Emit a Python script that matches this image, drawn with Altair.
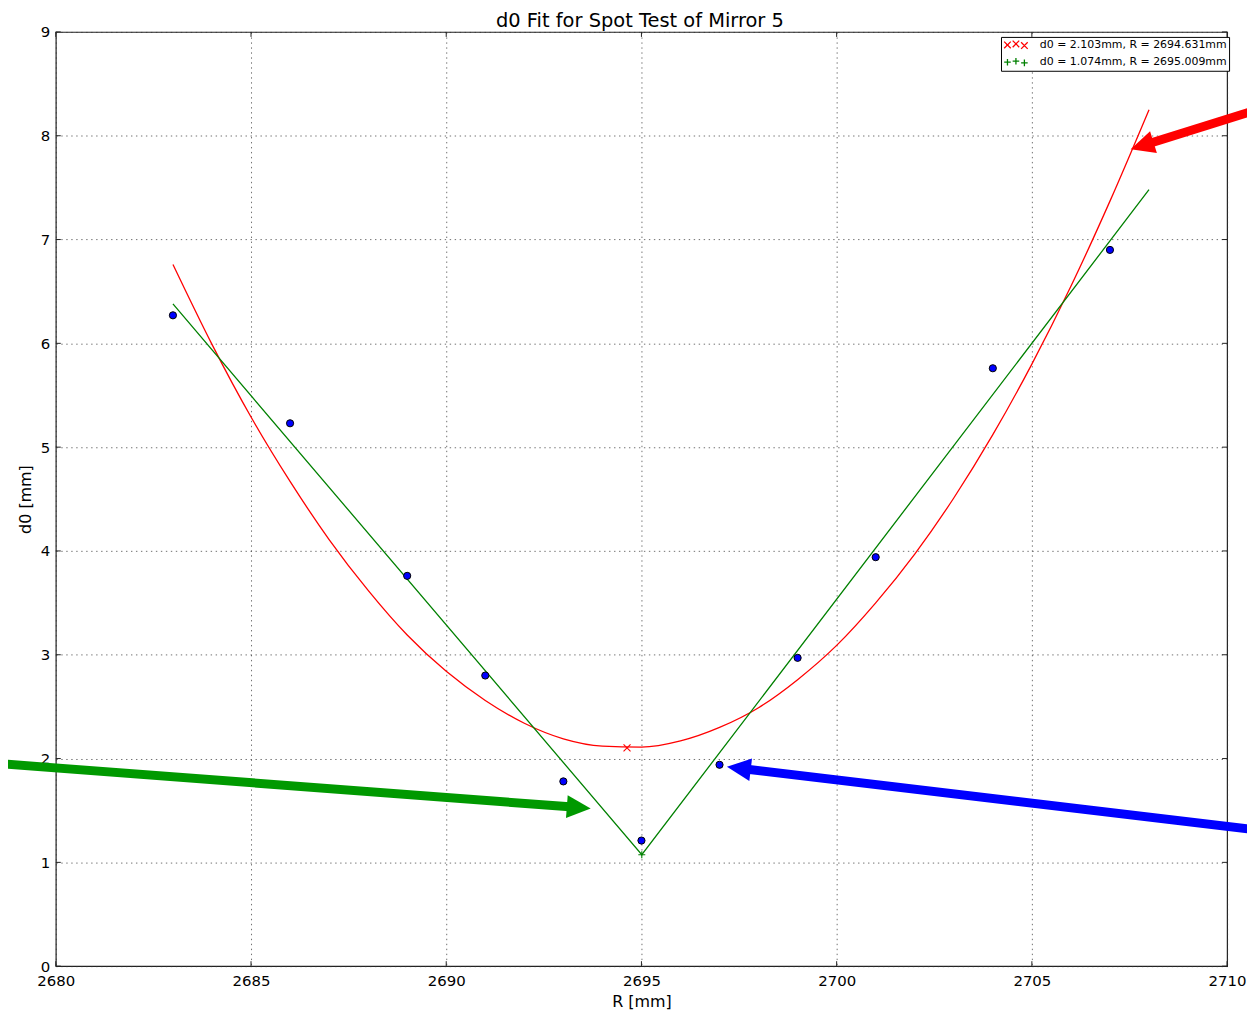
import math
import altair as alt
import pandas as pd

# ---- data ----
R_data = [2683, 2686, 2689, 2691, 2693, 2695, 2697, 2699, 2701, 2704, 2707]
d0_data = [6.27, 5.23, 3.76, 2.80, 1.78, 1.21, 1.94, 2.97, 3.94, 5.76, 6.90]

R_curve = [2683, 2684, 2685, 2686, 2687, 2688, 2689, 2690, 2691, 2692, 2693, 2694, 2695,
           2696, 2697, 2698, 2699, 2700, 2701, 2702, 2703, 2704, 2705, 2706, 2707, 2708]
d0_curve = [6.76, 5.99, 5.29, 4.67, 4.11, 3.62, 3.19, 2.84, 2.56, 2.34, 2.19, 2.12, 2.11,
            2.17, 2.30, 2.49, 2.76, 3.09, 3.50, 3.97, 4.51, 5.12, 5.80, 6.55, 7.37, 8.25]

R_vee = [2683, 2695.009, 2708]
d0_vee = [6.38, 1.074, 7.48]

fit_labels = ["d0 = 2.103mm, R = 2694.631mm", "d0 = 1.074mm, R = 2695.009mm"]
fit_R = [2694.631, 2695.009]
fit_d0 = [2.103, 1.074]
fit_colors = ["#ff0000", "#008000"]

arrow_colors = ["#ff0000", "#009900", "#0000ff"]
arrow_tail_R = [2710.59, 2678.57, 2710.59]
arrow_tail_d0 = [8.23, 1.95, 1.32]
arrow_tip_R = [2707.53, 2693.70, 2697.19]
arrow_tip_d0 = [7.87, 1.52, 1.92]

x_ticks = [2680, 2685, 2690, 2695, 2700, 2705, 2710]
y_ticks = [0, 1, 2, 3, 4, 5, 6, 7, 8, 9]

chart_title = "d0 Fit for Spot Test of Mirror 5"

# ---- layout ----
W, H = 1176, 938
XMIN, XMAX, YMIN, YMAX = 2680, 2710, 0, 9
sx = W / (XMAX - XMIN)
sy = H / (YMAX - YMIN)
FONT = "DejaVu Sans"

xscale = alt.Scale(domain=[XMIN, XMAX], nice=False, zero=False)
yscale = alt.Scale(domain=[YMIN, YMAX], nice=False, zero=False)
axis_style = dict(domain=False, ticks=False, tickSize=0, grid=True, gridColor="#333",
                  gridDash=[1.4, 3.6], gridWidth=0.7, labelFont=FONT, labelFontSize=15,
                  labelColor="black", titleFont=FONT, titleFontSize=16, titleFontWeight="normal",
                  titleColor="black", labelFlush=False, labelOverlap=False, labelBound=False,
                  format="d")
xaxis = alt.Axis(values=x_ticks, title="R [mm]", labelPadding=7, titlePadding=5, **axis_style)
yaxis = alt.Axis(values=y_ticks, title="d0 [mm]", labelPadding=6, titlePadding=7, **axis_style)


def X(f, **kw):
    return alt.X(f, type="quantitative", scale=xscale, axis=xaxis, **kw)


def Y(f, **kw):
    return alt.Y(f, type="quantitative", scale=yscale, axis=yaxis, **kw)


df_pts = pd.DataFrame({"R": R_data, "d0": d0_data})
df_curve = pd.DataFrame({"R": R_curve, "d0": d0_curve})
df_vee = pd.DataFrame({"R": R_vee, "d0": d0_vee})
df_fit = pd.DataFrame({"series": fit_labels, "R": fit_R, "d0": fit_d0})

# arrows
rows = []
HEAD_LEN = 24
for c, tR, td, hR, hd in zip(arrow_colors, arrow_tail_R, arrow_tail_d0, arrow_tip_R, arrow_tip_d0):
    vx = (hR - tR) * sx
    vy = -(hd - td) * sy
    L = math.hypot(vx, vy)
    ux, uy = vx / L, vy / L
    bR = hR - ux * (HEAD_LEN * 0.6) / sx
    bd = hd + uy * (HEAD_LEN * 0.6) / sy
    ang = math.degrees(math.atan2(vy, vx)) % 360
    rows.append({"color": c, "tR": tR, "td": td, "bR": bR, "bd": bd,
                 "hR": hR, "hd": hd, "angle": ang})
df_arrow = pd.DataFrame(rows)

curve = alt.Chart(df_curve).mark_line(color="#ff0000", strokeWidth=1.3, interpolate="monotone").encode(
    x=X("R"), y=Y("d0"))
vee = alt.Chart(df_vee).mark_line(color="#008000", strokeWidth=1.3).encode(x=X("R"), y=Y("d0"))

dots = alt.Chart(df_pts).mark_point(filled=True, shape="circle", size=52, fill="#0000ff",
                                    stroke="black", strokeWidth=1, opacity=1).encode(
    x=X("R"), y=Y("d0"))

xmark = alt.Chart(df_fit.iloc[[0]]).mark_point(shape="M-1,-1L1,1M-1,1L1,-1", size=49, filled=False,
                                               stroke="#ff0000", strokeWidth=1.1, opacity=1).encode(
    x=X("R"), y=Y("d0"))
pmark = alt.Chart(df_fit.iloc[[1]]).mark_point(shape="M-1,0L1,0M0,-1L0,1", size=49, filled=False,
                                               stroke="#008000", strokeWidth=1.1, opacity=1).encode(
    x=X("R"), y=Y("d0"))


def triple(kind):
    cs = [(-1.7, 0.0), (0.0, -0.2), (1.7, 0.14)]
    h = 0.66
    p = ""
    for cx, cy in cs:
        if kind == "x":
            p += f"M{cx-h:.2f},{cy-h:.2f}L{cx+h:.2f},{cy+h:.2f}M{cx-h:.2f},{cy+h:.2f}L{cx+h:.2f},{cy-h:.2f}"
        else:
            p += f"M{cx-h:.2f},{cy:.2f}L{cx+h:.2f},{cy:.2f}M{cx:.2f},{cy-h:.2f}L{cx:.2f},{cy+h:.2f}"
    return p


legend = alt.Legend(orient="none", legendX=949, legendY=5, title=None, padding=2,
                    symbolOffset=7, labelOffset=18, rowPadding=3.4, symbolSize=100,
                    symbolStrokeWidth=1.3, labelFont=FONT, labelFontSize=11, labelColor="black",
                    labelLimit=400, strokeColor="black", fillColor="white", cornerRadius=0)

legend_layer = alt.Chart(df_fit).mark_point(filled=False, opacity=0).encode(
    x=X("R"), y=Y("d0"),
    color=alt.Color("series:N", scale=alt.Scale(domain=fit_labels, range=fit_colors), legend=legend),
    shape=alt.Shape("series:N", scale=alt.Scale(domain=fit_labels, range=[triple("x"), triple("+")]),
                    legend=legend),
)

tick_color = "#222"
df_xt = pd.DataFrame({"R": x_ticks})
df_yt = pd.DataFrame({"d0": y_ticks})
xt_bot = alt.Chart(df_xt).mark_rule(color=tick_color, strokeWidth=1).encode(
    x=X("R"), y=alt.value(H - 5), y2=alt.value(H))
xt_top = alt.Chart(df_xt).mark_rule(color=tick_color, strokeWidth=1).encode(
    x=X("R"), y=alt.value(0), y2=alt.value(5))
yt_left = alt.Chart(df_yt).mark_rule(color=tick_color, strokeWidth=1).encode(
    y=Y("d0"), x=alt.value(0), x2=alt.value(5))
yt_right = alt.Chart(df_yt).mark_rule(color=tick_color, strokeWidth=1).encode(
    y=Y("d0"), x=alt.value(W - 5), x2=alt.value(W))

shafts = alt.Chart(df_arrow).mark_rule(strokeWidth=9, strokeCap="butt").encode(
    x=X("tR"), y=Y("td"), x2="bR", y2="bd", color=alt.Color("color:N", scale=None))
heads = alt.Chart(df_arrow).mark_point(shape="M0,0L-2,-0.95L-2,0.95Z", size=576, filled=True,
                                       opacity=1, strokeWidth=0).encode(
    x=X("hR"), y=Y("hd"), angle=alt.Angle("angle:Q", scale=None),
    color=alt.Color("color:N", scale=None))

title_text = alt.Chart(pd.DataFrame({"t": [chart_title]})).mark_text(
    font=FONT, fontSize=19.5, color="black", align="center", baseline="alphabetic").encode(
    text="t:N", x=alt.value(586.5), y=alt.value(-5))

chart = alt.layer(curve, vee, dots, xmark, pmark, legend_layer, xt_bot, xt_top, yt_left, yt_right,
                  shafts, heads, title_text).properties(
    width=W, height=H,
    background="white",
    autosize=alt.AutoSizeParams(type="none"),
    padding={"left": 48, "top": 22, "right": 20, "bottom": 46},
).configure_view(stroke="#222", strokeWidth=1.2)

chart.save("out.html", embed_options={"renderer": "svg", "actions": False})
